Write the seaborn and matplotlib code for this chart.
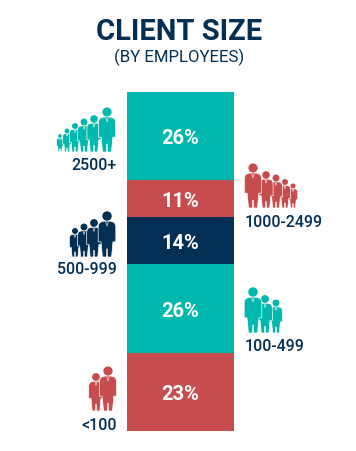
import numpy as np
import matplotlib
matplotlib.use("Agg")
import matplotlib.pyplot as plt
from matplotlib.patches import Circle, Polygon
import seaborn as sns

# top to bottom
sizes = ['2500+', '1000-2499', '500-999', '100-499', '<100']
shares = [26, 11, 14, 26, 23]
bar_colors = ['#00B8AD', '#C74C4E', '#022F53', '#00B8AD', '#C74C4E']

TEAL = '#00B8AD'
RED = '#C74C4E'
NAVY = '#022F53'

sns.set_theme(style='white')
plt.rcParams['font.family'] = ['Roboto', 'DejaVu Sans']

W, H = 356, 452
fig = plt.figure(figsize=(W / 100, H / 100), dpi=100, facecolor='white')

# stacked column
ax = fig.add_axes([127 / W, 1 - 431.6 / H, 107 / W, 339 / H])
top = 100
for size, share, col in zip(sizes, shares, bar_colors):
    sns.barplot(x=[0], y=[share], bottom=top - share, color=col, width=1,
                saturation=1, native_scale=True, ax=ax, linewidth=0)
    ax.text(0, top - share / 2 - 0.5, f'{share}%', color='white', ha='center', va='center',
            fontsize=14.5, fontweight='bold')
    top -= share
ax.set_xlim(-0.5, 0.5)
ax.set_ylim(0, 100)
ax.axis('off')

# overlay in pixels for the icons and labels
ov = fig.add_axes([0, 0, 1, 1], zorder=3)
ov.set_xlim(0, W)
ov.set_ylim(H, 0)
ov.axis('off')
ov.patch.set_alpha(0)


def person(x, head_y, foot_y, color, z):
    h = foot_y - head_y
    r = 0.115 * h
    w = 0.215 * h
    # body outline, units of figure height below the head centre
    pts = [(-0.35, 0.125), (-0.85, 0.16), (-1.0, 0.24), (-1.0, 0.63), (-0.68, 0.63),
           (-0.52, 1.0), (-0.03, 1.0), (0, 0.8), (0.03, 1.0), (0.52, 1.0),
           (0.68, 0.63), (1.0, 0.63), (1.0, 0.24), (0.85, 0.16), (0.35, 0.125)]
    body = [(x + a * w, head_y + b * h) for a, b in pts]
    ov.add_patch(Polygon(body, closed=True, fc=color, ec='white', lw=0.5, zorder=z, joinstyle='round'))
    ov.add_patch(Circle((x, head_y), r, fc=color, ec='none', zorder=z))
    # collar
    ov.plot([x - 0.15 * w, x, x + 0.15 * w], [head_y + 0.14 * h, head_y + 0.25 * h, head_y + 0.14 * h],
            color='white', lw=0.4, zorder=z + 0.1)


def group(heads, foot_y, color):
    # heads go largest first, draw the small ones underneath
    for i, (x, y) in enumerate(reversed(heads)):
        person(x, y, foot_y, color, 4 + i)


group([(107, 113), (94, 120), (84, 123), (75, 127), (67, 132), (60, 137)], 153, TEAL)
group([(253, 169), (266, 176), (276, 179), (285, 183), (293, 187)], 209, RED)
group([(107, 217), (94, 224), (84, 228), (75, 232)], 258, NAVY)
group([(253, 293), (265, 300), (276, 304)], 334, TEAL)
group([(108, 372), (96, 378)], 412, RED)

label_pos = [(117, 166, 'right'), (284, 223, 'center'), (117, 269.5, 'right'),
             (275, 346.5, 'center'), (117, 426, 'right')]
for size, (lx, ly, ha) in zip(sizes, label_pos):
    ov.text(lx, ly, size, color=NAVY, ha=ha, va='center', fontsize=11.5, fontweight='medium')

ov.text(179.5, 32.5, 'CLIENT SIZE', color=NAVY, ha='center', va='center', fontsize=21, fontweight='bold')
ov.text(179, 57, '(BY EMPLOYEES)', color=NAVY, ha='center', va='center', fontsize=12.1)

fig.savefig('out.png', dpi=100)
